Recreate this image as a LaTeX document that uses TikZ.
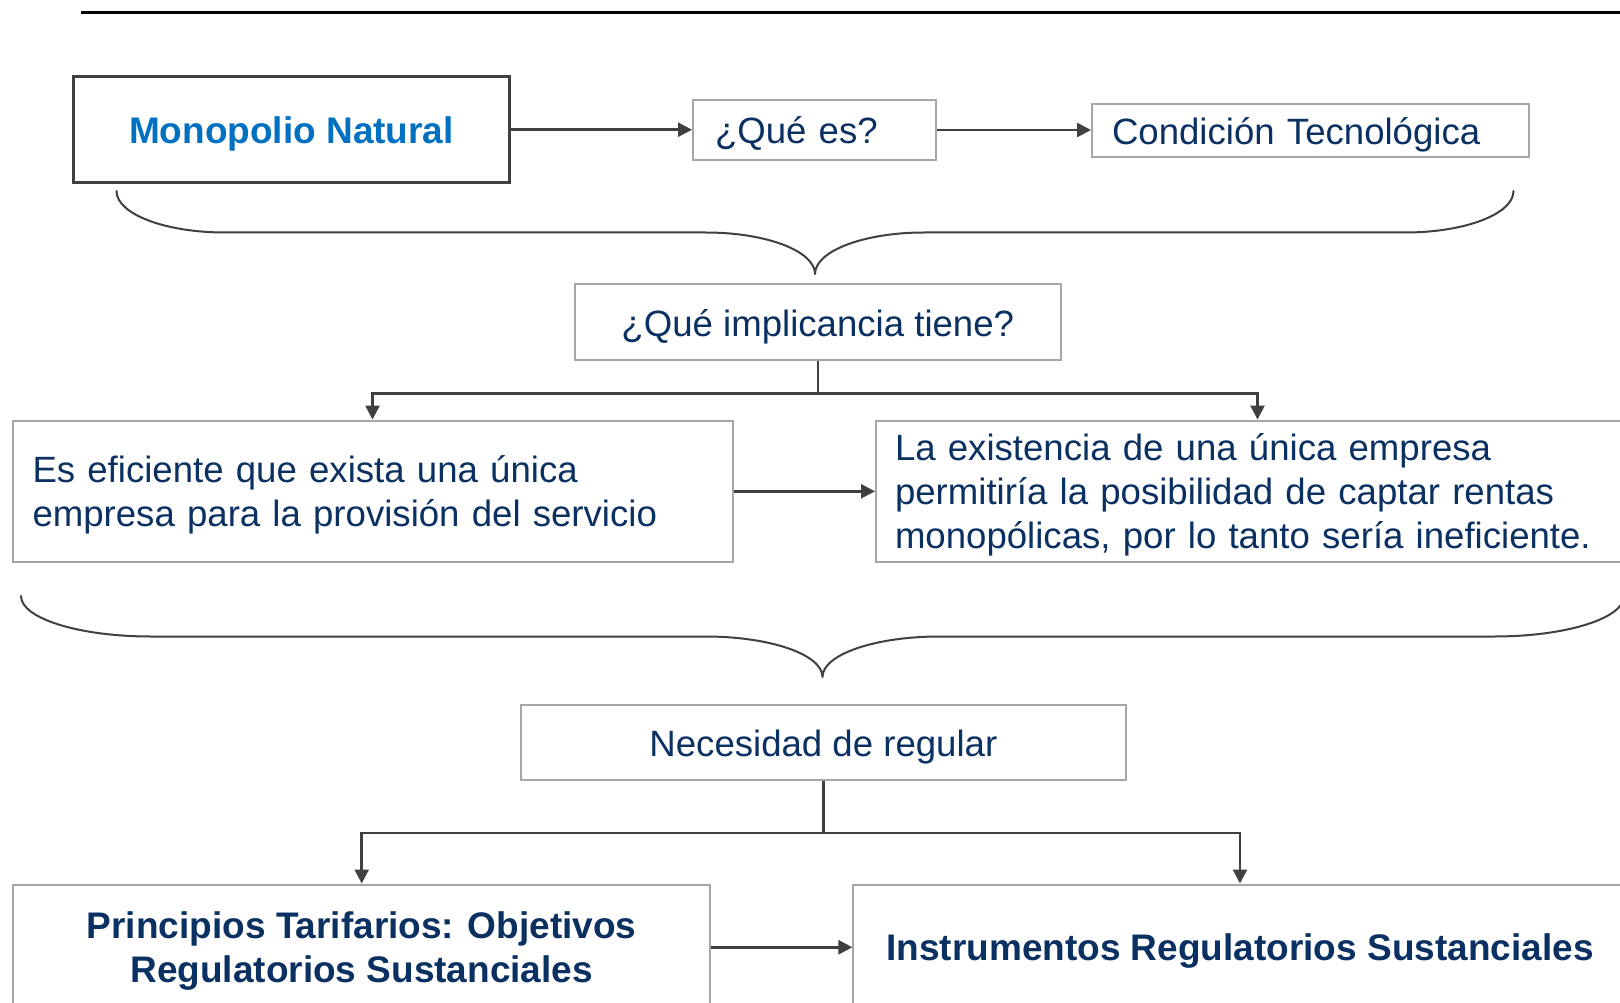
\documentclass[tikz,border=0pt]{standalone}
\usepackage{fontspec}
\setmainfont{Liberation Sans}
\usetikzlibrary{arrows.meta}
\definecolor{navy}{HTML}{0B3062}
\definecolor{mblue}{HTML}{0070C0}
\definecolor{lgray}{HTML}{A6A6A6}
\definecolor{dgray}{HTML}{404040}
\newcommand\mysz{\fontsize{36.6}{44}\selectfont}
\newcommand\mybsz{\fontsize{37}{44}\selectfont\bfseries}
\begin{document}
\begin{tikzpicture}[x=1pt,y=-1pt,
  box/.style={draw=lgray, line width=2pt, rectangle, inner sep=0pt},
  lbl/.style={inner sep=0pt, font=\mysz, text=navy},
  arr/.style={draw=dgray, line width=2.5pt, -{Triangle[length=14pt,width=14pt]}},
  bracepath/.style={draw=dgray, line width=2pt, line join=round, line cap=round}]
\path[use as bounding box] (0,0) rectangle (1620,1003);
\clip (0,0) rectangle (1620,1003);
\fill[white] (0,0) rectangle (1620,1003);
% top rule
\draw[line width=3pt, black] (80.5,12.5) -- (1620,12.5);
% row 1
\node[box, draw=dgray, line width=3pt, minimum width=436pt, minimum height=106.5pt] (mono) at (291.4,129.7) {};
\node[lbl, text=mblue, font=\mybsz] (monot) at ([yshift=-4pt]mono.center) {Monopolio Natural};
\node[box, minimum width=243pt, minimum height=60pt] (que) at (814.5,130) {};
\node[lbl, text width=199pt, align=left] (quet) at ([yshift=-3.5pt]que.center) {¿Qué es?};
\node[box, minimum width=437pt, minimum height=53pt] (cond) at (1310.5,130.5) {};
\node[lbl, text width=397pt, align=left] (condt) at ([yshift=-4pt]cond.center) {Condición Tecnológica};
\draw[arr] (mono.east) -- (mono.east -| que.west);
\draw[arr] (que.east) -- (que.east -| cond.west);
% brace 1
\draw[bracepath] (116.5,191) .. controls (116.5,214) and (165,232.5) .. (225,232.5) -- (706,232.5)
  .. controls (766,232.5) and (815,251) .. (815,274)
  .. controls (815,251) and (864,232.5) .. (924,232.5) -- (1405,232.5)
  .. controls (1465,232.5) and (1513.5,214) .. (1513.5,191);
% row 2
\node[box, minimum width=486.5pt, minimum height=75.5pt] (imp) at (817.8,321.8) {};
\node[lbl] (impt) at ([yshift=-5pt]imp.center) {¿Qué implicancia tiene?};
\node[box, minimum width=720pt, minimum height=141.5pt] (eff) at (372.5,491.3) {};
\node[lbl, text width=680pt, align=left] (efft) at ([yshift=-4pt]eff.center) {Es eficiente que exista una única\\empresa para la provisión del servicio};
\node[box, minimum width=763pt, minimum height=141.5pt] (ext) at (1257.5,491.3) {};
\node[lbl, text width=725pt, align=left] (extt) at ([yshift=-3.5pt]ext.center) {La existencia de una única empresa\\permitiría la posibilidad de captar rentas\\monopólicas, por lo tanto sería ineficiente.};
\draw[arr] (imp.south) -- ++(0,33) -| (eff.north);
\draw[arr] (imp.south) -- ++(0,33) -| (ext.north);
\draw[arr] (eff.east) -- (eff.east -| ext.west);
% brace 2
\draw[bracepath] (21,596) .. controls (21,618.4) and (79,636.5) .. (151,636.5) -- (705.5,636.5)
  .. controls (770,636.5) and (822.5,654.5) .. (822.5,677)
  .. controls (822.5,654.5) and (875,636.5) .. (939.5,636.5) -- (1494,636.5)
  .. controls (1566,636.5) and (1624,618.4) .. (1624,596);
% row 3
\node[box, minimum width=605pt, minimum height=75.4pt] (nec) at (823.4,742.3) {};
\node[lbl] (nect) at ([yshift=-5pt]nec.center) {Necesidad de regular};
\node[box, minimum width=696.6pt, minimum height=125.5pt] (pri) at (361.7,947.25) {};
\node[lbl, align=center, font=\mybsz] (prit) at ([yshift=-3.5pt]pri.center) {Principios Tarifarios: Objetivos\\Regulatorios Sustanciales};
\node[box, minimum width=773.2pt, minimum height=125.5pt] (ins) at (1240,947.25) {};
\node[lbl, font=\mybsz] (inst) at ([yshift=-4pt]ins.center) {Instrumentos Regulatorios Sustanciales};
\draw[arr] (nec.south) -- ++(0,52) -| (pri.north);
\draw[arr] (nec.south) -- ++(0,52) -| (ins.north);
\draw[arr] (pri.east) -- (pri.east -| ins.west);
\end{tikzpicture}
\end{document}
